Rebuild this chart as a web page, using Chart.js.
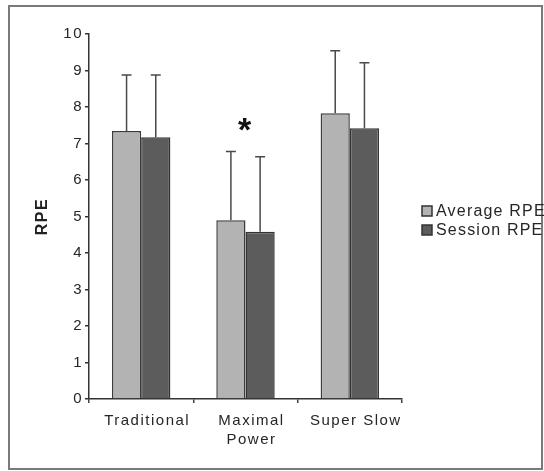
<!DOCTYPE html>
<html>
<head>
<meta charset="UTF-8">
<title>RPE by protocol</title>
<script src="https://cdn.jsdelivr.net/npm/chart.js@4.4.1/dist/chart.umd.min.js"></script>
<style>
  html, body { margin: 0; padding: 0; background: #fff; }
  #wrap { width: 544px; height: 471px; position: relative; }
</style>
</head>
<body>
<div id="wrap"><canvas id="chart" width="544" height="471"></canvas></div>
<script>
// data
var categories = [['Traditional'], ['Maximal', 'Power'], ['Super Slow']];
var seriesNames = ['Average RPE', 'Session RPE'];
var averageRPE = [7.34, 4.90, 7.83];
var sessionRPE = [7.17, 4.58, 7.42];
var averageSD = [1.54, 1.88, 1.71];
var sessionSD = [1.71, 2.06, 1.79];
var significance = ['', '*', ''];
var yTicks = [0, 1, 2, 3, 4, 5, 6, 7, 8, 9, 10];

var FONT = 'Liberation Sans, Arial, sans-serif';
var TEXT = '#262626';

// upper whiskers, the star and the legend
var extras = {
  id: 'extras',
  beforeDraw: function(chart) {
    var ctx = chart.ctx;
    ctx.save();
    ctx.fillStyle = '#fff';
    ctx.fillRect(0, 0, chart.width, chart.height);
    ctx.strokeStyle = '#7a7a7a';
    ctx.lineWidth = 2;
    ctx.strokeRect(9, 6, 533, 463);
    ctx.restore();
    ctx.letterSpacing = '1.5px';
  },
  afterDatasetsDraw: function(chart) {
    var ctx = chart.ctx, y = chart.scales.y;
    ctx.save();
    ctx.letterSpacing = '0px';
    chart.data.datasets.forEach(function(ds, di) {
      var meta = chart.getDatasetMeta(di);
      meta.data.forEach(function(bar, i) {
        var top = y.getPixelForValue(ds.data[i] + ds.sd[i]);
        ctx.strokeStyle = '#4a4a4a';
        ctx.lineWidth = 1.5;
        ctx.beginPath();
        ctx.moveTo(bar.x, bar.y);
        ctx.lineTo(bar.x, top);
        ctx.moveTo(bar.x - 5, top);
        ctx.lineTo(bar.x + 5, top);
        ctx.stroke();
      });
    });
    // significance star above the tallest whisker of the group
    significance.forEach(function(mark, i) {
      if (!mark) return;
      var hi = Math.max(averageRPE[i] + averageSD[i], sessionRPE[i] + sessionSD[i]);
      var x = chart.scales.x.getPixelForValue(i);
      ctx.fillStyle = '#111';
      ctx.font = 'bold 34px ' + FONT;
      ctx.textAlign = 'center';
      ctx.textBaseline = 'middle';
      ctx.fillText(mark, x - 1, y.getPixelForValue(hi) - 20);
    });
    // legend
    ctx.letterSpacing = '1.2px';
    ctx.font = '16px ' + FONT;
    ctx.textAlign = 'left';
    ctx.textBaseline = 'middle';
    chart.data.datasets.forEach(function(ds, di) {
      var cy = 211 + di * 19;
      ctx.fillStyle = ds.backgroundColor;
      ctx.strokeStyle = '#333';
      ctx.lineWidth = 1.5;
      ctx.fillRect(422, cy - 5, 10, 10);
      ctx.strokeRect(422, cy - 5, 10, 10);
      ctx.fillStyle = TEXT;
      ctx.fillText(ds.label, 436, cy + 1);
    });
    ctx.restore();
  }
};

new Chart(document.getElementById('chart'), {
  type: 'bar',
  data: {
    labels: categories,
    datasets: [
      { label: seriesNames[0], data: averageRPE, sd: averageSD,
        backgroundColor: '#b3b3b3', borderColor: '#3c3c3c', borderWidth: 1.5 },
      { label: seriesNames[1], data: sessionRPE, sd: sessionSD,
        backgroundColor: '#5c5c5c', borderColor: '#333', borderWidth: 1.5 }
    ]
  },
  options: {
    responsive: false,
    animation: false,
    devicePixelRatio: 1,
    layout: { padding: { left: 0, right: 142, top: 34, bottom: 14 } },
    datasets: { bar: { barPercentage: 1, categoryPercentage: 0.56 } },
    plugins: { legend: { display: false }, tooltip: { enabled: false } },
    scales: {
      x: {
        offset: true,
        grid: { offset: true, drawOnChartArea: false, drawTicks: true, tickLength: 4, color: '#444', lineWidth: 1.5 },
        border: { display: true, color: '#333', width: 1.5 },
        ticks: { color: TEXT, font: { family: FONT, size: 15, lineHeight: 1.3 }, padding: 8, labelOffset: 6, maxRotation: 0, autoSkip: false },
        afterFit: function(s) { s.height = 58; }
      },
      y: {
        min: 0, max: 10,
        afterBuildTicks: function(s) { s.ticks = yTicks.map(function(v) { return { value: v }; }); },
        grid: { drawOnChartArea: false, drawTicks: true, tickLength: 4, color: '#333', lineWidth: 1.5 },
        border: { display: true, color: '#333', width: 1.5 },
        ticks: { color: TEXT, font: { family: FONT, size: 15 }, padding: 2 },
        title: { display: true, text: 'RPE', color: '#222', font: { family: FONT, size: 16, weight: 'bold' }, padding: { top: 33, bottom: 0 } },
        afterFit: function(s) { s.width = 89; }
      }
    }
  },
  plugins: [extras]
});
</script>
</body>
</html>
